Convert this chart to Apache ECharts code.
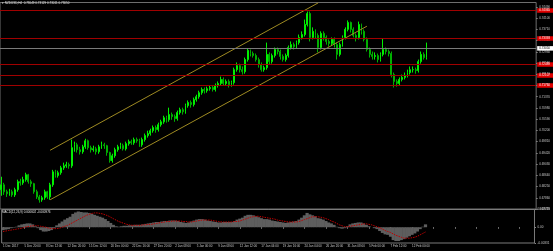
<!DOCTYPE html>
<html><head><meta charset="utf-8">
<style>html,body{margin:0;padding:0;background:#000;}#c{width:553px;height:251px;}</style>
<script src="https://cdn.jsdelivr.net/npm/echarts@6.0.0/dist/echarts.min.js"></script>
</head><body><div id="c"></div>
<script>
const symbolTitle = '\u25BE NZDUSD,H4  0.73049 0.73129 0.73011 0.73050';
const macdTitle = 'MACD(12,26,9) 0.000602 -0.000976';
const timeLabels = ['1 Dec 2017','5 Dec 20:00','8 Dec 12:00','12 Dec 20:00','15 Dec 12:00','20 Dec 00:00','22 Dec 16:00','27 Dec 20:00','2 Jan 08:00','5 Jan 00:00','9 Jan 08:00','12 Jan 12:00','17 Jan 04:00','19 Jan 16:00','24 Jan 04:00','26 Jan 20:00','31 Jan 08:00','5 Feb 00:00','7 Feb 12:00','12 Feb 00:00'];
const priceTicks = [0.67470,0.67860,0.68250,0.68640,0.69030,0.69420,0.69810,0.70200,0.70590,0.70980,0.71370,0.71760,0.72150,0.72540,0.72930,0.73320,0.73710,0.74100,0.74490];
const macdTicks = [-0.00331, 0, 0.003719];
// [open, close, low, high]
const candles = [
[0.6814,0.6831,0.6793,0.6859],[0.6831,0.6807,0.6796,0.6838],[0.6807,0.6800,0.6789,0.6814],[0.6800,0.6807,0.6793,0.6817],
[0.6807,0.6796,0.6789,0.6814],[0.6796,0.6814,0.6789,0.6821],[0.6814,0.6842,0.6807,0.6849],[0.6842,0.6838,0.6828,0.6852],
[0.6838,0.6849,0.6831,0.6859],[0.6849,0.6866,0.6842,0.6873],[0.6866,0.6842,0.6835,0.6869],[0.6842,0.6835,0.6824,0.6849],
[0.6835,0.6807,0.6800,0.6838],[0.6807,0.6789,0.6782,0.6814],[0.6789,0.6779,0.6769,0.6796],[0.6779,0.6786,0.6772,0.6793],
[0.6786,0.6807,0.6779,0.6814],[0.6807,0.6789,0.6782,0.6810],[0.6789,0.6831,0.6779,0.6838],[0.6831,0.6876,0.6824,0.6883],
[0.6876,0.6863,0.6856,0.6883],[0.6863,0.6873,0.6856,0.6880],[0.6873,0.6890,0.6866,0.6897],[0.6890,0.6897,0.6883,0.6908],
[0.6897,0.6901,0.6890,0.6911],[0.6901,0.6897,0.6887,0.6908],[0.6897,0.6960,0.6890,0.6988],[0.6960,0.6970,0.6946,0.6981],
[0.6970,0.6953,0.6943,0.6977],[0.6953,0.6946,0.6936,0.6963],[0.6946,0.6963,0.6939,0.6970],[0.6963,0.6984,0.6956,0.6991],
[0.6984,0.6960,0.6953,0.6988],[0.6960,0.6953,0.6943,0.6967],[0.6953,0.6956,0.6946,0.6967],[0.6956,0.6946,0.6936,0.6963],
[0.6946,0.6963,0.6939,0.6970],[0.6963,0.6970,0.6956,0.6981],[0.6970,0.6967,0.6956,0.6977],[0.6967,0.6943,0.6932,0.6970],
[0.6943,0.6915,0.6908,0.6946],[0.6915,0.6932,0.6908,0.6939],[0.6932,0.6953,0.6925,0.6960],[0.6953,0.6963,0.6946,0.6970],
[0.6963,0.6967,0.6956,0.6977],[0.6967,0.6956,0.6950,0.6974],[0.6956,0.6974,0.6950,0.6981],[0.6974,0.6981,0.6967,0.6988],
[0.6981,0.6977,0.6970,0.6988],[0.6977,0.6988,0.6970,0.6995],[0.6988,0.6984,0.6977,0.6995],[0.6984,0.6970,0.6963,0.6991],
[0.6970,0.6988,0.6963,0.6995],[0.6988,0.7002,0.6981,0.7009],[0.7002,0.7009,0.6995,0.7019],[0.7009,0.7019,0.7002,0.7026],
[0.7019,0.7030,0.7012,0.7037],[0.7030,0.7023,0.7012,0.7037],[0.7023,0.7040,0.7016,0.7047],[0.7040,0.7050,0.7033,0.7057],
[0.7050,0.7064,0.7043,0.7071],[0.7064,0.7057,0.7047,0.7071],[0.7057,0.7075,0.7050,0.7099],[0.7075,0.7068,0.7057,0.7082],
[0.7068,0.7061,0.7050,0.7075],[0.7061,0.7082,0.7054,0.7089],[0.7082,0.7092,0.7075,0.7099],[0.7092,0.7085,0.7075,0.7099],
[0.7085,0.7106,0.7078,0.7113],[0.7106,0.7117,0.7099,0.7124],[0.7117,0.7110,0.7099,0.7124],[0.7110,0.7127,0.7103,0.7134],
[0.7127,0.7137,0.7120,0.7144],[0.7137,0.7151,0.7130,0.7158],[0.7151,0.7162,0.7144,0.7169],[0.7162,0.7158,0.7148,0.7169],
[0.7158,0.7165,0.7151,0.7172],[0.7165,0.7169,0.7158,0.7176],[0.7169,0.7162,0.7155,0.7176],[0.7162,0.7176,0.7155,0.7183],
[0.7176,0.7183,0.7169,0.7190],[0.7183,0.7197,0.7176,0.7207],[0.7197,0.7183,0.7176,0.7204],[0.7183,0.7190,0.7176,0.7197],
[0.7190,0.7179,0.7169,0.7197],[0.7179,0.7186,0.7172,0.7193],[0.7186,0.7231,0.7179,0.7238],[0.7231,0.7245,0.7224,0.7256],
[0.7245,0.7231,0.7221,0.7252],[0.7231,0.7224,0.7214,0.7242],[0.7224,0.7266,0.7217,0.7273],[0.7266,0.7298,0.7259,0.7304],
[0.7298,0.7287,0.7277,0.7301],[0.7287,0.7280,0.7273,0.7294],[0.7280,0.7266,0.7259,0.7287],[0.7266,0.7249,0.7238,0.7273],
[0.7249,0.7231,0.7224,0.7256],[0.7231,0.7238,0.7224,0.7245],[0.7238,0.7284,0.7231,0.7325],[0.7284,0.7259,0.7249,0.7291],
[0.7259,0.7280,0.7252,0.7287],[0.7280,0.7301,0.7273,0.7308],[0.7301,0.7294,0.7284,0.7308],[0.7294,0.7277,0.7266,0.7301],
[0.7277,0.7266,0.7259,0.7284],[0.7266,0.7280,0.7259,0.7287],[0.7280,0.7308,0.7273,0.7315],[0.7308,0.7318,0.7301,0.7329],
[0.7318,0.7311,0.7301,0.7325],[0.7311,0.7325,0.7304,0.7332],[0.7325,0.7343,0.7318,0.7353],[0.7343,0.7353,0.7336,0.7364],
[0.7353,0.7388,0.7346,0.7405],[0.7388,0.7426,0.7381,0.7433],[0.7426,0.7343,0.7329,0.7433],[0.7343,0.7364,0.7336,0.7378],
[0.7364,0.7350,0.7339,0.7371],[0.7350,0.7308,0.7291,0.7357],[0.7308,0.7357,0.7301,0.7364],[0.7357,0.7343,0.7332,0.7364],
[0.7343,0.7329,0.7318,0.7350],[0.7329,0.7322,0.7311,0.7336],[0.7322,0.7336,0.7315,0.7343],[0.7336,0.7318,0.7308,0.7343],
[0.7318,0.7284,0.7266,0.7325],[0.7284,0.7318,0.7277,0.7325],[0.7318,0.7343,0.7311,0.7350],[0.7343,0.7371,0.7336,0.7378],
[0.7371,0.7395,0.7364,0.7402],[0.7395,0.7371,0.7360,0.7398],[0.7371,0.7350,0.7343,0.7378],[0.7350,0.7343,0.7329,0.7357],
[0.7343,0.7388,0.7336,0.7398],[0.7388,0.7364,0.7353,0.7391],[0.7364,0.7336,0.7329,0.7371],[0.7336,0.7301,0.7294,0.7343],
[0.7301,0.7284,0.7273,0.7308],[0.7284,0.7277,0.7266,0.7294],[0.7277,0.7280,0.7266,0.7291],[0.7280,0.7266,0.7256,0.7287],
[0.7266,0.7284,0.7259,0.7291],[0.7284,0.7301,0.7277,0.7339],[0.7301,0.7294,0.7284,0.7308],[0.7294,0.7287,0.7277,0.7301],
[0.7287,0.7214,0.7204,0.7294],[0.7214,0.7190,0.7169,0.7221],[0.7190,0.7183,0.7172,0.7197],[0.7183,0.7197,0.7176,0.7204],
[0.7197,0.7204,0.7190,0.7214],[0.7204,0.7211,0.7197,0.7221],[0.7211,0.7221,0.7204,0.7231],[0.7221,0.7231,0.7214,0.7242],
[0.7231,0.7231,0.7221,0.7242],[0.7231,0.7228,0.7217,0.7238],[0.7228,0.7259,0.7221,0.7266],[0.7259,0.7284,0.7252,0.7294],
[0.7284,0.7273,0.7266,0.7291],[0.7273,0.7305,0.7266,0.7325]
];
const macd = [
-0.0006,-0.0005,-0.0004,-0.0002,-0.0001,0.0001,0.0004,
0.0006,0.0007,0.0008,0.0008,0.0006,
0.0002,-0.0002,-0.0006,-0.0009,-0.0009,-0.0008,-0.0006,
-0.0002,0.0004,0.0008,0.0012,0.0016,0.0019,0.0022,0.0028,
0.0031,0.0033,0.0032,0.0031,0.0031,0.0030,0.0028,0.0026,0.0024,0.0022,0.0020,0.0017,0.0013,0.0009,0.0005,
0.0002,0.0001,0.0002,0.0003,0.0003,0.0004,0.0004,0.0005,0.0005,0.0005,
0.0006,0.0007,0.0008,0.0009,0.0010,0.0011,0.0011,0.0012,0.0013,0.0013,0.0014,0.0014,0.0014,0.0013,
0.0011,0.0010,0.0009,0.0010,
0.0012,0.0014,0.0016,0.0017,0.0017,
0.0016,0.0014,0.0013,0.0012,0.0011,0.0010,0.0010,
0.0011,0.0011,0.0011,0.0011,0.0013,
0.0016,0.0018,0.0020,0.0024,0.0026,0.0026,0.0025,
0.0023,0.0021,0.0019,0.0017,0.0017,
0.0016,0.0014,0.0013,0.0012,0.0011,
0.0010,0.0009,0.0010,0.0011,0.0012,0.0013,0.0016,
0.0020,0.0025,0.0030,
0.0027,0.0025,0.0023,0.0019,0.0018,0.0016,0.0013,0.0010,0.0008,0.0005,0.0001,
-0.0002,-0.0003,-0.0002,0.0002,
0.0006,0.0008,0.0009,0.0010,0.0010,
0.0008,0.0005,0.0002,0.0000,-0.0002,-0.0004,
-0.0008,-0.0012,-0.0015,-0.0016,-0.0020,-0.0027,-0.0029,-0.0029,
-0.0027,-0.0025,-0.0022,-0.0019,-0.0016,-0.0013,-0.0009,-0.0004,0.0001,0.0006
];
const signal = [
-0.0009,-0.0008,-0.0007,-0.0006,-0.0005,-0.0004,-0.0003,
-0.0002,0.0000,0.0001,0.0002,0.0003,
0.0003,0.0003,0.0002,0.0001,0.0000,-0.0002,-0.0003,
-0.0003,-0.0003,-0.0002,0.0000,0.0002,0.0004,0.0007,0.0010,
0.0013,0.0016,0.0019,0.0022,0.0025,0.0027,0.0029,0.0030,0.0030,0.0029,0.0028,0.0026,0.0024,0.0021,0.0018,
0.0015,0.0012,0.0010,0.0008,0.0006,0.0005,0.0004,0.0004,0.0004,0.0004,
0.0005,0.0005,0.0006,0.0006,0.0007,0.0008,0.0009,0.0010,0.0011,0.0012,0.0012,0.0013,0.0013,0.0013,
0.0013,0.0012,0.0012,0.0011,
0.0011,0.0012,0.0013,0.0014,0.0015,
0.0015,0.0015,0.0015,0.0014,0.0013,0.0012,0.0011,
0.0011,0.0011,0.0011,0.0011,0.0012,
0.0012,0.0013,0.0015,0.0017,0.0019,0.0021,0.0022,
0.0023,0.0023,0.0022,0.0021,0.0020,
0.0019,0.0018,0.0017,0.0015,0.0014,
0.0013,0.0012,0.0011,0.0011,0.0011,0.0011,0.0012,
0.0014,0.0016,0.0018,
0.0020,0.0022,0.0022,0.0022,0.0021,0.0020,0.0018,0.0016,0.0013,0.0011,0.0008,
0.0005,0.0003,0.0001,0.0001,
0.0002,0.0003,0.0004,0.0005,0.0006,
0.0007,0.0007,0.0006,0.0005,0.0003,0.0001,
-0.0001,-0.0004,-0.0007,-0.0009,-0.0011,-0.0014,-0.0017,-0.0019,
-0.0021,-0.0023,-0.0023,-0.0023,-0.0022,-0.0021,-0.0019,-0.0016,-0.0013,-0.0010
];
const levels = [0.74365, 0.73393, 0.72489, 0.72107, 0.71760];
const channelUpper = [[18, 0.6951], [117, 0.7463]];
const channelLower = [[18, 0.6779], [135, 0.7382]];
const slotCount = 198;
const labelStep = 8;

const cats = Array.from({length: slotCount}, (_, i) => 's' + i);
const current = candles[candles.length - 1][1];
const FONT = 'Liberation Sans';
const TXT = '#c8c8c8';

const chart = echarts.init(document.getElementById('c'), null, {renderer: 'canvas'});

const tagLabel = (v, bg, fg) => ({
  show: true, position: 'end', distance: 1,
  formatter: v.toFixed(5), backgroundColor: bg, color: fg,
  fontSize: 3, fontFamily: FONT, padding: [1, 3, 0.5, 2], lineHeight: 3
});

const levelSeries = levels.map(v => ({
  type: 'line', xAxisIndex: 0, yAxisIndex: 0, data: [], silent: true, z: 5,
  markLine: {silent: true, symbol: ['none', 'none'], animation: false, precision: 5,
    lineStyle: {color: '#a00000', width: 1, type: 'solid', opacity: 1},
    label: tagLabel(v, '#e00000', '#ffffff'),
    emphasis: {disabled: true},
    data: [{yAxis: v}]}
}));
const currentSeries = {
  type: 'line', xAxisIndex: 0, yAxisIndex: 0, data: [], silent: true, z: 5,
  markLine: {silent: true, symbol: ['none', 'none'], animation: false, precision: 5,
    lineStyle: {color: '#7a7a7a', width: 1, type: 'solid', opacity: 1},
    label: tagLabel(current, '#ffffff', '#000000'),
    emphasis: {disabled: true},
    data: [{yAxis: current}]}
};

chart.setOption({
  animation: false,
  backgroundColor: '#000',
  title: [
    {text: symbolTitle, left: 2, top: 1.5, padding: 0, textStyle: {fontSize: 3, color: '#e0e0e0', fontWeight: 'normal', fontFamily: FONT}},
    {text: macdTitle, left: 2, top: 211, padding: 0, textStyle: {fontSize: 3, color: '#e0e0e0', fontWeight: 'normal', fontFamily: FONT}}
  ],
  grid: [
    {left: 0, top: 2.5, width: 537, height: 206.5, show: true, borderColor: '#6e6e6e', borderWidth: 1, backgroundColor: '#000'},
    {left: 0, top: 209.5, width: 537, height: 33.5, show: true, borderColor: '#7a7a7a', borderWidth: 1, backgroundColor: '#000'}
  ],
  xAxis: [
    {type: 'category', data: cats, gridIndex: 0, boundaryGap: true,
     axisLine: {show: false}, axisTick: {show: false}, axisLabel: {show: false}, splitLine: {show: false}},
    {type: 'category', data: cats, gridIndex: 1, boundaryGap: true,
     axisLine: {show: false},
     axisTick: {show: true, interval: labelStep - 1, alignWithLabel: true, length: 1.5, lineStyle: {color: '#888'}},
     axisLabel: {show: true, interval: labelStep - 1, align: 'left', margin: 1.5, fontSize: 3, fontFamily: FONT, color: TXT,
       formatter: (v, idx) => (idx % labelStep === 0 && timeLabels[idx / labelStep]) ? timeLabels[idx / labelStep] : ''},
     splitLine: {show: false}}
  ],
  yAxis: [
    {type: 'value', gridIndex: 0, position: 'right', min: 0.6747, max: 0.74643, scale: true,
     axisLine: {show: false}, splitLine: {show: false},
     axisTick: {show: true, length: 1.5, customValues: priceTicks, lineStyle: {color: '#888'}},
     axisLabel: {show: true, customValues: priceTicks, margin: 3, fontSize: 3, fontFamily: FONT, color: TXT,
       formatter: v => v.toFixed(5)}},
    {type: 'value', gridIndex: 1, position: 'right', min: -0.00331, max: 0.003719, scale: true,
     axisLine: {show: false}, splitLine: {show: false},
     axisTick: {show: true, length: 1.5, customValues: macdTicks, lineStyle: {color: '#888'}},
     axisLabel: {show: true, customValues: macdTicks, margin: 3, fontSize: 3, fontFamily: FONT, color: TXT,
       formatter: v => v === 0 ? '0.00' : (v > 0 ? v.toFixed(6) : v.toFixed(5))}}
  ],
  series: [
    {type: 'candlestick', xAxisIndex: 0, yAxisIndex: 0, data: candles, barWidth: 1.4, silent: true, z: 3,
     itemStyle: {color: '#00d000', color0: '#009400', borderColor: '#00f000', borderColor0: '#00b000', borderWidth: 1}},
    {type: 'line', xAxisIndex: 0, yAxisIndex: 0, data: channelUpper, showSymbol: false, silent: true, z: 4,
     lineStyle: {color: '#9e8a22', width: 1}},
    {type: 'line', xAxisIndex: 0, yAxisIndex: 0, data: channelLower, showSymbol: false, silent: true, z: 4,
     lineStyle: {color: '#9e8a22', width: 1}},
    ...levelSeries,
    currentSeries,
    {type: 'bar', xAxisIndex: 1, yAxisIndex: 1, data: macd, barWidth: 3.2, silent: true,
     itemStyle: {color: '#5e5e5e'}},
    {type: 'line', xAxisIndex: 1, yAxisIndex: 1, data: signal, showSymbol: false, silent: true,
     lineStyle: {color: '#c00000', width: 1, type: [1.5, 1]}}
  ]
});
</script>
</body></html>
